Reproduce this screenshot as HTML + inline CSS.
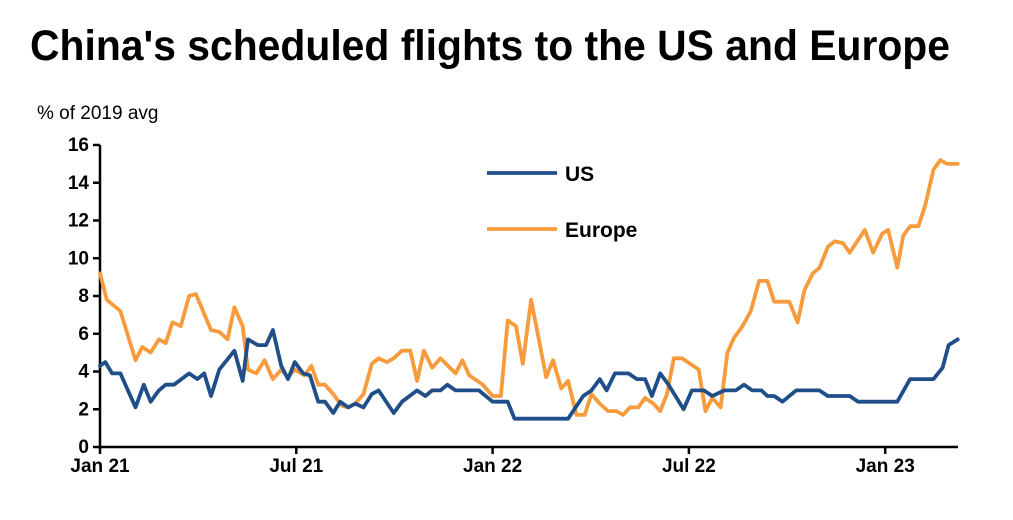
<!DOCTYPE html>
<html><head><meta charset="utf-8"><style>
body{margin:0;background:#fff;}
svg{display:block;font-family:"Liberation Sans",Arial,sans-serif;}
</style></head><body>
<svg id="chart" width="1013" height="520">
<text x="30" y="60" font-size="43" font-weight="bold" textLength="920" lengthAdjust="spacingAndGlyphs" fill="#000">China's scheduled flights to the US and Europe</text>
<text x="37" y="119" font-size="19" fill="#000">% of 2019 avg</text>
<g id="axes"></g>
<g id="series"></g>
<g>
<line x1="487" y1="173" x2="557" y2="173" stroke="#1f4e89" stroke-width="3.8"/>
<text x="565" y="181" font-size="21" font-weight="bold">US</text>
<line x1="487" y1="229" x2="557" y2="229" stroke="#f79b3d" stroke-width="3.8"/>
<text x="565" y="237" font-size="21" font-weight="bold">Europe</text>
</g>
</svg>
<script>
const yTicks=[0,2,4,6,8,10,12,14,16];
const xTickLabels=["Jan 21","Jul 21","Jan 22","Jul 22","Jan 23"];
const xTickWeeks=[0,26,52,78,104];
const euWeeks=[0,0.9,2.7,4.7,5.6,6.7,7.8,8.7,9.6,10.7,11.8,12.7,14.7,15.8,16.9,17.8,18.9,19.6,20.7,21.8,22.9,24,24.9,25.8,27.1,28,28.9,29.8,30.9,32,32.9,33.8,34.9,36,36.9,38,38.9,40,41.1,42,42.9,44,45.1,47.1,48,48.9,50.7,52,53.1,54,55.1,56,57.1,59.1,60,61.1,62,63.1,64.2,65.1,66.2,67.3,68.4,69.3,70.2,71.3,72.2,73.3,74.2,75.1,76,77.1,78.2,79.3,80.2,81.1,82.2,83.1,84,85.1,86.2,87.3,88.4,89.3,91.3,92.4,93.3,94.4,95.3,96.4,97.3,98.4,99.3,101.3,102.4,103.6,104.4,105.6,106.4,107.3,108.4,109.3,110.4,111.3,112.2,113.6];
const euValues=[9.2,7.8,7.2,4.6,5.3,5.0,5.7,5.5,6.6,6.4,8.0,8.1,6.2,6.1,5.7,7.4,6.4,4.1,3.9,4.6,3.6,4.1,3.7,4.1,3.8,4.3,3.3,3.3,2.8,2.2,2.1,2.3,2.8,4.4,4.7,4.5,4.7,5.1,5.1,3.5,5.1,4.2,4.7,3.9,4.6,3.8,3.3,2.7,2.7,6.7,6.4,4.4,7.8,3.7,4.6,3.1,3.5,1.7,1.7,2.8,2.3,1.9,1.9,1.7,2.1,2.1,2.6,2.3,1.9,2.8,4.7,4.7,4.4,4.1,1.9,2.6,2.1,5.0,5.8,6.4,7.2,8.8,8.8,7.7,7.7,6.6,8.3,9.2,9.5,10.6,10.9,10.8,10.3,11.5,10.3,11.3,11.5,9.5,11.2,11.7,11.7,12.8,14.7,15.2,15.0,15.0];
const usWeeks=[0,0.7,1.6,2.7,4.7,5.8,6.7,7.8,8.7,9.8,11.8,12.9,13.8,14.7,15.8,17.8,18.9,19.6,20.9,22,22.9,24,24.9,25.8,26.9,27.8,28.9,29.8,30.9,31.8,32.9,33.8,34.9,36,36.9,38.9,40,42,43.1,44,45.1,46,47.1,50.2,52,54,54.9,62,64,65.1,66.2,67.1,68.2,70,71.1,72.2,73.1,74.2,75.3,77.3,78.4,80,81.1,82.7,84.2,85.3,86.4,87.6,88.4,89.3,90.4,92.2,95.3,96.4,99.3,100.4,105.6,107.3,110.4,111.6,112.4,113.6];
const usValues=[4.3,4.5,3.9,3.9,2.1,3.3,2.4,3.0,3.3,3.3,3.9,3.6,3.9,2.7,4.1,5.1,3.5,5.7,5.4,5.4,6.2,4.3,3.6,4.5,3.9,3.8,2.4,2.4,1.8,2.4,2.1,2.3,2.1,2.8,3.0,1.8,2.4,3.0,2.7,3.0,3.0,3.3,3.0,3.0,2.4,2.4,1.5,1.5,2.7,3.0,3.6,3.0,3.9,3.9,3.6,3.6,2.7,3.9,3.3,2.0,3.0,3.0,2.7,3.0,3.0,3.3,3.0,3.0,2.7,2.7,2.4,3.0,3.0,2.7,2.7,2.4,2.4,3.6,3.6,4.2,5.4,5.7];

const NS="http://www.w3.org/2000/svg";
const x0=100,pxPerWeek=7.55,yBase=447,yTop=145,yMax=16;
function xs(w){return x0+w*pxPerWeek;}
function ys(v){return yBase-(v/yMax)*(yBase-yTop);}
const axes=document.getElementById('axes');
function mk(tag,attrs,parent){const e=document.createElementNS(NS,tag);for(const k in attrs)e.setAttribute(k,attrs[k]);parent.appendChild(e);return e;}
const yAxis=mk('line',{x1:x0,y1:yTop,x2:x0,y2:yBase+2,stroke:'#000','stroke-width':2.5},axes);


const xAxis=mk('line',{x1:x0-1,y1:yBase,x2:958,y2:yBase,stroke:'#000','stroke-width':2.5},axes);


yTicks.forEach(v=>{
  const t=mk('line',{x1:x0-7,y1:ys(v),x2:x0,y2:ys(v),stroke:'#000','stroke-width':2.5},axes);
  
  
  const l=mk('text',{x:x0-11,y:ys(v)+6,'text-anchor':'end','font-size':19,'font-weight':'bold'},axes);
  l.textContent=v;
  
  
});
xTickWeeks.forEach((w,i)=>{
  const t=mk('line',{x1:xs(w),y1:yBase,x2:xs(w),y2:yBase+7,stroke:'#000','stroke-width':2.5},axes);
  
  
  const l=mk('text',{x:xs(w),y:yBase+25,'text-anchor':'middle','font-size':19,'font-weight':'bold'},axes);
  l.textContent=xTickLabels[i];
  
  
});
const series=document.getElementById('series');
function line(weeks,vals,color,name){
  const d=weeks.map((w,i)=>(i?'L':'M')+xs(w).toFixed(1)+' '+ys(vals[i]).toFixed(1)).join(' ');
  const p=mk('path',{d:d,fill:'none',stroke:color,'stroke-width':3.8,'stroke-linejoin':'round','stroke-linecap':'round'},series);
  
  
}
line(euWeeks,euValues,'#f79b3d','europe-line');
line(usWeeks,usValues,'#1f4e89','us-line');
</script>
</body></html>
